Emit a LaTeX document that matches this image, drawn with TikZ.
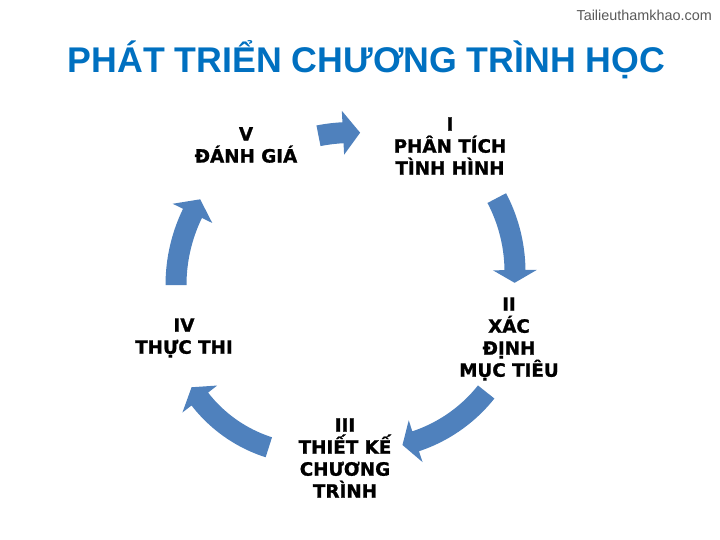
\documentclass[tikz,border=0pt]{standalone}
\usepackage{fontspec}
\setmainfont{DejaVu Sans}
\newfontfamily\stagefont{DejaVu Sans Bold}[FakeBold=1.2]
\newfontfamily\headfont{Liberation Sans}

\definecolor{titleblue}{RGB}{0,112,192}
\definecolor{arrowblue}{RGB}{79,129,189}

\tikzset{
  stage/.style={align=center, inner sep=0pt, font=\stagefont\fontsize{18.3}{22}\selectfont},
  heading/.style={inner sep=0pt, text=titleblue, font=\headfont\fontsize{35.7}{40}\selectfont\bfseries},
  mark text/.style={inner sep=0pt, text=black!65, font=\headfont\fontsize{14.4}{16}\selectfont}
}

% curved block arrow: centre x, centre y, radius, start, head base, tip (angles)
\newcommand{\cyclearrow}[6]{%
  \fill [arrowblue]
  plot [domain=#4:#5, samples=24] ({#1+(#3+10.5)*cos(\x)}, {#2+(#3+10.5)*sin(\x)})
  -- ({#1+(#3+22)*cos(#5)}, {#2+(#3+22)*sin(#5)})
  -- ({#1+#3*cos(#6)}, {#2+#3*sin(#6)})
  -- ({#1+(#3-22)*cos(#5)}, {#2+(#3-22)*sin(#5)})
  -- plot [domain=#5:#4, samples=24] ({#1+(#3-10.5)*cos(\x)}, {#2+(#3-10.5)*sin(\x)})
  -- cycle;}

\begin{document}
\begin{tikzpicture}[x=1pt, y=-1pt]
\useasboundingbox (0,0) rectangle (720,540);
\node [mark text, anchor=base east] (site) at (712,21) {Tailieuthamkhao.com};
\node [heading, anchor=base] (title) at (366.5,73) {PHÁT TRIỂN CHƯƠNG TRÌNH HỌC};

\node [stage] (analyse) at (450,146) {I\\PHÂN TÍCH\\TÌNH HÌNH};
\node [stage] (goals) at (509,339) {II\\XÁC\\ĐỊNH\\MỤC TIÊU};
\node [stage] (design) at (345,458) {III\\THIẾT KẾ\\CHƯƠNG\\TRÌNH};
\node [stage] (run) at (184,338) {IV\\THỰC THI};
\node [stage] (review) at (246,145) {V\\ĐÁNH GIÁ};

\cyclearrow{352}{305}{172.5}{-101.2}{-93}{-87.3}
\cyclearrow{356}{272}{159}{-27.7}{-0.7}{3.9}
\cyclearrow{368}{298}{151}{38.5}{71.6}{76.8}
\cyclearrow{312}{312}{142}{107.7}{142.2}{148}
\cyclearrow{340}{285}{164}{180}{205.9}{211.5}
\end{tikzpicture}
\end{document}
